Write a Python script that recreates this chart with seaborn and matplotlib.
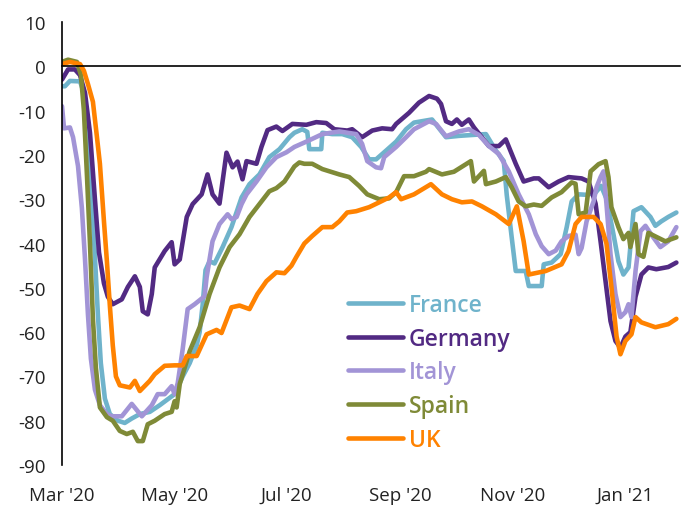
import pandas as pd
import seaborn as sns
import matplotlib
matplotlib.use("Agg")
import matplotlib.pyplot as plt
import matplotlib.dates as mdates

# data: days since 1 Mar 2020, change vs baseline (%)
start_date = "2020-03-01"

france_days = [0, 1.6, 4.3, 9.8, 11.9, 14.1, 16.3, 17.9, 19.5, 21.1, 23.3, 26.0, 30.4, 34.1, 37.9, 42.3,
               47.7, 53.1, 61.2, 65.6, 69.4, 73.2, 74.8, 76.4, 78.0, 80.2, 82.9, 87.3, 92.1, 97.6, 101.9,
               107.3, 112.7, 118.2, 123.6, 126.3, 130.6, 133.3, 134.4, 140.9, 141.5, 146.9, 152.3, 157.7,
               162.6, 166.9, 170.7, 176.2, 181.6, 187.0, 191.3, 201.1, 208.7, 215.7, 222.8, 230.4, 235.8,
               240.1, 241.7, 244.4, 246.6, 252.0, 253.7, 260.7, 261.8, 266.1, 271.0, 274.3, 277.0, 280.8,
               285.1, 290.0, 293.0, 296.0, 299.7, 302.4, 305.1, 307.9, 310.6, 314.9, 319.8, 322.5, 325.7,
               329.5, 333.9]
france_vals = [-4.5, -4.5, -3.3, -3.4, -6, -15, -30, -43, -56, -67, -75, -78.5, -80, -80.5, -79.5, -78.5,
               -78, -76.5, -74, -70, -67, -63, -60, -54, -46, -44, -44.5, -40.8, -36.3, -29.6, -26.6,
               -24.4, -20.5, -18.7, -16, -15, -14.2, -14.8, -18.7, -18.7, -15, -15.3, -15.3, -16,
               -18.2, -21, -21, -19, -17, -14.2, -12.7, -12, -16, -15.7, -15.5, -15.3, -19,
               -21.4, -29, -38.6, -46.2, -46.2, -49.6, -49.6, -44.7, -44.3, -42.4, -36.3, -30.5, -28.9,
               -29, -28.5, -27, -30, -37.9, -44, -47, -45.4, -32.7, -31.8, -34, -36, -35,
               -34, -33]

germany_days = [0, 3.3, 7.0, 9.8, 12.5, 15.2, 17.9, 20.1, 22.8, 24.9, 27.6, 32.5, 35.8, 39.6, 42.3, 43.9,
                46.6, 48.8, 50.4, 55.8, 59.6, 61.2, 64.0, 67.8, 71.0, 75.9, 79.1, 81.8, 85.6, 89.4, 92.7,
                95.4, 98.1, 100.3, 105.7, 108.4, 111.7, 116.5, 119.8, 125.2, 132.8, 138.2, 143.6, 148.0,
                155.0, 157.7, 163.1, 168.6, 174.0, 179.4, 181.6, 188.6, 194.0, 199.5, 203.8, 206.0, 208.7,
                211.9, 214.6, 217.3, 221.1, 223.9, 232.0, 237.4, 241.2, 246.6, 250.9, 256.4, 259.1, 264.5,
                269.9, 275.3, 282.4, 286.2, 290.0, 292.7, 295.4, 298.1, 300.8, 303.5, 306.2, 308.9, 311.7,
                314.9, 318.7, 323.0, 329.5, 333.9]
germany_vals = [-3, -0.7, -0.7, -2, -6, -15, -30, -42, -49, -52, -53.7, -52.6, -49.8, -47.4, -49.8, -55.3,
                -56, -51.4, -45.4, -41.7, -39.7, -44.7, -43.6, -34, -31.1, -28.9, -24.4, -28.9, -31, -19.5, -22.8,
                -21.5, -25.5, -21.4, -22, -18.2, -14.4, -13.6, -14.6, -13, -13.2, -12.6, -12.8, -14.2,
                -14.5, -14.2, -16, -14.5, -14, -14.2, -13, -10.5, -8.2, -6.7, -7.3, -8.5, -12.4,
                -13, -12, -13.2, -12, -13.8, -18, -18, -16.5, -22, -26, -25.3, -25.3, -27.3,
                -26, -25, -25.3, -26, -31, -39.5, -48.5, -57.5, -62, -63.5, -61, -60, -52,
                -47, -45.4, -45.8, -45.3, -44.3]

italy_days = [0, 1.1, 4.3, 6.0, 8.7, 10.8, 12.5, 14.1, 15.7, 17.9, 20.6, 24.4, 27.1, 32.5, 37.9, 43.4,
              48.8, 52.0, 55.8, 59.6, 61.2, 62.9, 65.6, 68.3, 72.1, 77.5, 78.6, 81.8, 85.6, 90.0, 92.1,
              94.9, 97.6, 100.3, 105.7, 111.1, 116.5, 122.0, 126.3, 132.8, 141.5, 150.7, 159.9, 163.1,
              165.9, 170.7, 173.4, 175.1, 181.6, 187.0, 191.3, 199.5, 203.3, 208.7, 215.7, 221.1, 226.6,
              232.0, 237.4, 242.8, 248.2, 253.7, 257.5, 260.7, 264.5, 268.3, 271.5, 275.3, 279.1, 280.8,
              282.4, 285.1, 288.9, 290.5, 292.7, 294.3, 295.9, 298.1, 300.8, 303.5, 306.2, 307.9, 309.5,
              311.7, 314.4, 317.1, 320.3, 325.2, 329.5, 333.9]
italy_vals = [-9, -14, -13.8, -16, -22.5, -32, -43.5, -56, -66, -73, -76.5, -78.5, -79, -79, -76.2, -79,
              -76.5, -74, -74, -72.2, -74, -71.5, -63.8, -54.8, -53.7, -51.9, -47.6, -39.5, -35.6, -33.4, -34.5,
              -34, -31.1, -28.9, -26, -22.8, -20.5, -19.4, -18.2, -17, -15.3, -14.7, -15.3, -17.5,
              -21.4, -22.8, -23, -20.5, -18.2, -16, -14.2, -12.4, -13, -15.8, -14.7, -14.2, -15.5,
              -18, -19.8, -23.7, -28.9, -33.4, -37.9, -40.6, -42.4, -41.6, -39.5, -38.3, -38, -42.4,
              -41, -35, -30.5, -27.3, -25, -23.7, -31, -42.4, -51.4, -56.6, -55.5, -53.7, -56.6,
              -46.2, -37.2, -36, -38, -40.8, -39.5, -36.3]

spain_days = [0, 3.3, 8.1, 10.3, 11.9, 13.6, 15.2, 16.8, 18.4, 20.6, 24.4, 27.6, 31.4, 35.2, 38.5, 41.2,
              43.9, 46.6, 50.4, 55.8, 59.6, 61.2, 62.3, 64.0, 69.4, 74.8, 80.2, 85.6, 91.1, 96.5, 101.9,
              107.3, 112.7, 116.5, 120.9, 126.3, 129.0, 131.7, 136.0, 141.5, 150.7, 156.1, 161.5, 165.9,
              172.4, 177.8, 181.6, 185.9, 191.3, 197.8, 199.5, 206.5, 213.0, 222.2, 223.9, 229.3, 230.4,
              235.8, 241.2, 244.4, 248.2, 252.0, 256.4, 260.7, 266.1, 271.5, 277.0, 279.1, 280.8, 284.6,
              287.3, 291.6, 295.4, 297.0, 298.6, 302.4, 305.1, 307.9, 308.9, 311.7, 313.3, 316.0, 318.7,
              323.0, 327.9, 333.9]
spain_vals = [1, 1.5, 1, -2, -10, -25, -40, -57, -68, -77, -79.2, -80, -82.3, -83, -82.5, -84.6,
              -84.6, -80.8, -80, -78.5, -78, -75.6, -77, -71.7, -64.3, -58.9, -51.4, -45.4, -40.8, -37.9, -34,
              -31.1, -28.2, -27.5, -26, -22.6, -21.7, -22, -22, -23.2, -24.4, -25, -27, -28.9,
              -30, -29.8, -28.4, -24.8, -24.8, -23.8, -23.2, -24.4, -23.8, -21.4, -26, -23.6, -26.6,
              -26, -25, -27.3, -30.5, -31.6, -31.2, -31.5, -29.6, -28.4, -26.2, -26.5, -33.4, -33,
              -23.7, -22.1, -21.4, -25, -31.8, -36.3, -39, -37.6, -40.8, -35.6, -42.4, -43, -37.6,
              -38.5, -39.5, -38.6]

uk_days = [0, 4.3, 9.8, 11.9, 14.1, 16.8, 19.0, 20.6, 22.8, 24.4, 26.0, 27.6, 29.3, 31.4, 36.9, 39.6,
           42.3, 47.7, 50.4, 55.8, 61.2, 65.6, 67.8, 73.2, 78.6, 84.0, 86.7, 92.1, 96.5, 101.9, 106.2,
           111.1, 116.5, 120.9, 124.7, 127.4, 131.7, 136.0, 141.5, 146.9, 150.7, 155.0, 159.9, 166.9,
           172.4, 177.8, 181.6, 184.3, 191.3, 200.5, 206.5, 211.9, 217.3, 222.8, 228.2, 235.8, 242.8,
           247.2, 250.9, 253.7, 262.9, 271.5, 275.3, 279.1, 282.4, 288.9, 292.7, 295.9, 298.6, 301.4,
           303.5, 306.2, 309.5, 311.7, 314.9, 322.5, 329.5, 333.9]
uk_vals = [0.5, 1, 0.5, -1, -4, -8, -16, -22, -35, -44, -54, -63, -70, -72, -72.5, -71,
           -73.3, -71, -69.5, -67.6, -67.5, -67.5, -65.4, -65.4, -60.5, -59.5, -60.2, -54.4, -54, -54.8, -51.4,
           -48.5, -46.5, -46.7, -45, -43, -40, -38.3, -36.3, -36.3, -35, -33, -32.7, -31.8,
           -30.7, -29.6, -28.4, -30, -28.9, -26.6, -28.9, -30, -30.7, -30.5, -31.6, -33.4, -35.6,
           -31.6, -39.5, -47, -46.2, -44.7, -41.7, -35.6, -34, -34, -35.6, -40, -49.8, -61,
           -65, -62, -60.5, -56.6, -57.8, -58.9, -58.2, -57]

countries = ["France", "Germany", "Italy", "Spain", "UK"]
colors = ["#6fb3cb", "#522a83", "#a294d6", "#7f8a37", "#ff8200"]
tick_dates = ["2020-03-01", "2020-05-01", "2020-07-01", "2020-09-01", "2020-11-01", "2021-01-01"]
tick_labels = ["Mar '20", "May '20", "Jul '20", "Sep '20", "Nov '20", "Jan '21"]

series = {
    "France": (france_days, france_vals),
    "Germany": (germany_days, germany_vals),
    "Italy": (italy_days, italy_vals),
    "Spain": (spain_days, spain_vals),
    "UK": (uk_days, uk_vals),
}

frames = []
for name in countries:
    days, vals = series[name]
    frames.append(pd.DataFrame({
        "date": pd.Timestamp(start_date) + pd.to_timedelta(days, unit="D"),
        "value": vals,
        "country": name,
    }))
df = pd.concat(frames, ignore_index=True)

sns.set_style("white")
plt.rcParams["font.family"] = ["Open Sans", "DejaVu Sans"]
plt.rcParams["axes.unicode_minus"] = False

fig, ax = plt.subplots(figsize=(6.92, 5.06), dpi=100)
fig.subplots_adjust(left=0.0896, right=0.983, bottom=0.079, top=0.9545)

sns.lineplot(data=df, x="date", y="value", hue="country", hue_order=countries,
             palette=dict(zip(countries, colors)), estimator=None, sort=False,
             linewidth=3.3, ax=ax)

ax.set_ylim(-90, 10)
ax.set_yticks(range(-90, 11, 10))
ax.set_xlim(pd.Timestamp("2020-03-01"), pd.Timestamp("2021-01-31"))
ax.set_xlabel("")
ax.set_ylabel("")

# x axis line sits at zero, labels stay at the bottom
ticks = [mdates.date2num(pd.Timestamp(d)) for d in tick_dates]
ax.set_xticks(ticks)
ax.spines["top"].set_visible(False)
ax.spines["right"].set_visible(False)
ax.spines["bottom"].set_position(("data", 0))
for side in ["left", "bottom"]:
    ax.spines[side].set_color("black")
    ax.spines[side].set_linewidth(1.2)
ax.tick_params(axis="x", direction="out", length=4, width=1.2, color="black", labelbottom=False)
ax.tick_params(axis="y", direction="out", length=4, width=1.2, color="black",
               labelsize=13.5, pad=8, labelcolor="#222222")

sec = ax.secondary_xaxis("bottom")
sec.set_xticks(ticks, labels=tick_labels)
sec.spines["bottom"].set_visible(False)
sec.tick_params(axis="x", length=0, pad=15, labelsize=13.5, labelcolor="#222222")

handles, labels = ax.get_legend_handles_labels()
leg = ax.legend(handles, labels, loc="upper left", bbox_to_anchor=(0.463, 0.388),
                frameon=False, fontsize=16.5, handlelength=2.4, handletextpad=0.25,
                labelspacing=0.42, borderpad=0, borderaxespad=0)
for text, line in zip(leg.get_texts(), leg.get_lines()):
    text.set_color(line.get_color())
    text.set_fontweight("semibold")
    line.set_linewidth(3.3)
    line.set_solid_capstyle("round")

fig.savefig("out.png", dpi=100)
